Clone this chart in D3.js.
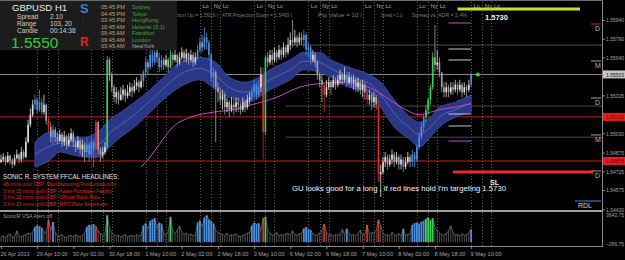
<!DOCTYPE html>
<html>
<head>
<meta charset="utf-8">
<script src="https://cdn.jsdelivr.net/npm/d3@7/dist/d3.min.js"></script>
<style>
  body { margin: 0; background: #000; }
  svg { display: block; }
  text { font-family: "Liberation Sans", Arial, sans-serif; }
</style>
</head>
<body>
<div id="chart"></div>
<script>
// GBPUSD H1 - 26 Apr 2013 18:00 .. 9 May 2013 10:00, one entry per hourly bar
const open0 = 1.5480;
const close = [
  1.5482,1.5484,1.5480,1.5485,1.5481,1.5478,1.5483,1.5486,1.5482,1.5488,1.5484,
  1.5496,1.5510,1.5518,
  1.5526,1.5530,1.5522,1.5528,1.5520,1.5526,
  1.5513,1.5508,1.5500,1.5506,1.5500,
  1.5497,1.5502,1.5496,1.5500,1.5494,1.5498,1.5503,1.5496,1.5492,1.5497,1.5490,1.5494,1.5488,
  1.5494,1.5486,1.5496,1.5490,
  1.5512,1.5490,1.5486,1.5488,1.5492,1.5562,
  1.5550,1.5540,1.5532,1.5536,1.5530,1.5534,1.5538,1.5533,1.5536,1.5540,1.5537,1.5541,1.5544,1.5540,1.5545,
  1.5552,1.5560,1.5556,1.5566,1.5560,1.5568,1.5564,1.5556,1.5562,
  1.5558,1.5562,1.5556,1.5566,1.5562,1.5566,1.5560,1.5564,1.5568,1.5563,1.5567,1.5562,1.5566,1.5560,1.5564,
  1.5570,1.5576,1.5572,1.5580,1.5576,1.5566,1.5548,1.5552,
  1.5540,1.5536,1.5530,1.5534,1.5524,1.5528,1.5522,1.5526,1.5524,1.5528,1.5526,1.5522,1.5528,1.5524,1.5530,1.5532,
  1.5536,1.5542,1.5534,1.5540,1.5550,1.5504,1.5564,
  1.5560,1.5566,1.5562,1.5568,1.5564,1.5570,1.5566,1.5572,1.5568,1.5574,1.5578,1.5576,1.5580,
  1.5576,1.5580,1.5578,1.5582,1.5570,1.5572,1.5562,1.5566,1.5560,
  1.5550,1.5546,1.5542,1.5534,1.5540,1.5544,1.5540,1.5546,1.5542,1.5546,1.5550,1.5546,1.5550,
  1.5544,1.5548,1.5544,1.5546,1.5540,1.5544,1.5538,1.5542,1.5536,
  1.5530,1.5534,1.5528,1.5532,1.5526,1.5470,1.5472,
  1.5480,1.5484,1.5478,1.5482,1.5486,1.5480,1.5484,1.5478,1.5482,1.5476,1.5480,1.5484,1.5480,
  1.5486,1.5482,1.5492,1.5500,1.5508,1.5516,
  1.5522,1.5530,1.5540,1.5564,1.5558,1.5560,1.5552,
  1.5540,1.5536,1.5540,1.5536,1.5540,1.5538,1.5542,1.5538,1.5542,1.5536,1.5540,1.5538,1.5542,1.5550
];
const high = [
  1.5486,1.5487,1.5485,1.5488,1.5486,1.5483,1.5486,1.5490,1.5487,1.5492,1.5490,
  1.5500,1.5514,1.5523,
  1.5530,1.5534,1.5532,1.5538,1.5531,1.5534,
  1.5527,1.5516,1.5512,1.5510,1.5508,
  1.5504,1.5506,1.5504,1.5505,1.5502,1.5503,1.5507,1.5505,1.5498,1.5501,1.5499,1.5498,1.5496,
  1.5499,1.5496,1.5500,1.5498,
  1.5514,1.5513,1.5492,1.5492,1.5496,1.5565,
  1.5564,1.5552,1.5542,1.5540,1.5538,1.5540,1.5542,1.5539,1.5542,1.5544,1.5543,1.5546,1.5548,1.5546,1.5550,
  1.5554,1.5564,1.5562,1.5570,1.5572,1.5572,1.5570,1.5568,1.5566,
  1.5564,1.5566,1.5564,1.5570,1.5568,1.5570,1.5567,1.5568,1.5572,1.5570,1.5571,1.5568,1.5570,1.5568,1.5568,
  1.5574,1.5580,1.5582,1.5588,1.5584,1.5578,1.5568,1.5556,
  1.5554,1.5544,1.5540,1.5538,1.5536,1.5532,1.5530,1.5532,1.5530,1.5532,1.5532,1.5528,1.5532,1.5530,1.5534,1.5536,
  1.5540,1.5546,1.5544,1.5546,1.5556,1.5556,1.5566,
  1.5568,1.5570,1.5570,1.5572,1.5570,1.5574,1.5572,1.5576,1.5574,1.5580,1.5584,1.5594,1.5586,
  1.5582,1.5584,1.5584,1.5586,1.5584,1.5576,1.5574,1.5570,1.5568,
  1.5562,1.5552,1.5550,1.5544,1.5546,1.5548,1.5546,1.5550,1.5548,1.5550,1.5554,1.5552,1.5556,
  1.5552,1.5552,1.5550,1.5550,1.5548,1.5548,1.5546,1.5546,1.5544,
  1.5538,1.5538,1.5536,1.5536,1.5534,1.5530,1.5478,
  1.5484,1.5488,1.5486,1.5486,1.5490,1.5488,1.5488,1.5486,1.5486,1.5484,1.5484,1.5488,1.5486,
  1.5490,1.5488,1.5494,1.5504,1.5512,1.5518,
  1.5526,1.5532,1.5542,1.5568,1.5590,1.5570,1.5564,
  1.5552,1.5544,1.5544,1.5542,1.5544,1.5544,1.5546,1.5544,1.5546,1.5544,1.5544,1.5542,1.5546,1.5552
];
const low = [
  1.5479,1.5480,1.5477,1.5479,1.5478,1.5475,1.5477,1.5482,1.5479,1.5480,1.5482,
  1.5483,1.5495,1.5508,
  1.5516,1.5522,1.5519,1.5520,1.5518,1.5518,
  1.5510,1.5504,1.5496,1.5494,1.5496,
  1.5494,1.5496,1.5492,1.5493,1.5490,1.5492,1.5496,1.5492,1.5488,1.5490,1.5486,1.5484,1.5480,
  1.5484,1.5480,1.5482,1.5476,
  1.5482,1.5486,1.5480,1.5483,1.5486,1.5490,
  1.5545,1.5536,1.5528,1.5527,1.5526,1.5529,1.5530,1.5528,1.5531,1.5533,1.5532,1.5535,1.5538,1.5536,1.5539,
  1.5540,1.5548,1.5550,1.5554,1.5556,1.5558,1.5560,1.5552,1.5554,
  1.5554,1.5556,1.5552,1.5555,1.5558,1.5560,1.5556,1.5558,1.5562,1.5560,1.5560,1.5558,1.5560,1.5556,1.5558,
  1.5562,1.5568,1.5568,1.5570,1.5570,1.5562,1.5544,1.5540,
  1.5496,1.5528,1.5526,1.5522,1.5518,1.5520,1.5516,1.5520,1.5518,1.5520,1.5520,1.5518,1.5520,1.5520,1.5522,1.5526,
  1.5528,1.5532,1.5530,1.5532,1.5536,1.5482,1.5502,
  1.5556,1.5558,1.5558,1.5560,1.5560,1.5562,1.5562,1.5564,1.5564,1.5566,1.5570,1.5572,1.5574,
  1.5572,1.5574,1.5574,1.5572,1.5566,1.5564,1.5558,1.5560,1.5556,
  1.5546,1.5540,1.5528,1.5520,1.5532,1.5538,1.5534,1.5540,1.5538,1.5540,1.5542,1.5542,1.5544,
  1.5540,1.5542,1.5540,1.5538,1.5536,1.5536,1.5534,1.5532,1.5530,
  1.5526,1.5526,1.5522,1.5524,1.5522,1.5464,1.5452,
  1.5470,1.5476,1.5474,1.5476,1.5478,1.5476,1.5478,1.5474,1.5474,1.5472,1.5474,1.5478,1.5476,
  1.5476,1.5476,1.5480,1.5490,1.5498,1.5504,
  1.5512,1.5518,1.5526,1.5538,1.5552,1.5554,1.5548,
  1.5536,1.5532,1.5532,1.5532,1.5534,1.5534,1.5536,1.5534,1.5536,1.5532,1.5534,1.5532,1.5536,1.5540
];
// PVA class per bar: n normal, b rising volume, r climax bear, g climax bull
const candleType =
  "nnnnnnnnnnnnnnn" + "bbbb" + "nn" + "r" + "n" + "b" + "nnnnnnnnnnnnnn" + "bbbb" + "r" + "nnnn" + "g" +
  "nnnnnnnnnnnnnnn" + "bbnbbbnbb" + "nnn" + "g" + "nnnnnnnnnnn" + "bbnbbbbb" + "nnnnnnnnnnnnnnnn" +
  "bbbb" + "n" + "r" + "g" + "nnnnnnnnnnnnnnnn" + "bbbb" + "nnnnn" + "r" + "nnnnnnnnn" + "b" + "nnnnnnnn" +
  "r" + "nnnn" + "r" + "nnnnnnnnnn" + "b" + "nnn" + "bbbbbb" + "gggg" + "nnnnnnnnnnnnnnnn" + "b";
const volume = [
  700,800,600,900,1100,700,600,1500,800,700,900,
  1000,1200,1100,1300,
  2000,2200,2100,1900,1400,
  1200,3000,1500,2700,1300,
  900,800,1000,700,600,800,900,700,1000,800,700,900,1200,
  2000,2300,2200,2400,
  2100,1500,1100,900,1000,
  3600,
  1800,1300,1000,800,900,700,800,1000,700,800,900,700,1000,800,900,
  2200,2500,1700,2800,3000,3200,1800,2600,2400,
  1200,1000,1400,3400,1500,1100,1600,2200,1300,1000,1200,900,1100,800,1000,
  2600,2900,2000,3300,3600,3000,2800,2500,
  1600,1300,1100,1000,900,1200,800,1000,900,1100,800,700,900,1000,1200,1300,
  2200,2600,2400,2500,
  1500,3200,3400,
  1500,1200,900,1000,1300,800,1000,900,1100,1200,900,1500,1000,
  900,1100,1200,1800,2000,1700,1600,1100,900,
  1000,1200,1600,2400,1300,900,1000,800,1000,900,1100,1700,1000,
  1800,1200,900,1000,800,1100,1600,900,1000,
  2300,1000,1300,1200,1500,3000,2200,
  1200,900,1000,800,1300,1000,900,1100,800,1800,900,1000,1100,
  2300,2500,2600,2400,2700,2800,
  3100,3300,2900,3200,
  2000,1500,1200,1000,900,1100,1500,2200,1300,900,1000,800,1100,900,1000,1200,
  1700
];

// Sonic R dragon (EMA34 high / low / close) and EMA89, read at knots
const dragonBar  = [15,22,26,31,37,44,48,53,59,66,73,79,88,95,101,108,112,119,128,134,141,146,154,163,168,174,181,185,190,194,201,208];
const dragonHigh = [1.5496,1.5504,1.5502,1.5500,1.5500,1.5506,1.5514,1.5520,1.5528,1.5538,1.5550,1.5560,1.5564,1.5560,1.5548,1.5544,1.5546,1.5554,1.5562,1.5568,1.5568,1.5562,1.5556,1.5550,1.5544,1.5530,1.5516,1.5512,1.5516,1.5524,1.5528,1.5534];
const dragonLow  = [1.5476,1.5482,1.5488,1.5486,1.5484,1.5484,1.5492,1.5500,1.5508,1.5520,1.5532,1.5540,1.5546,1.5538,1.5532,1.5528,1.5530,1.5538,1.5546,1.5554,1.5552,1.5548,1.5540,1.5536,1.5524,1.5508,1.5498,1.5492,1.5500,1.5508,1.5516,1.5520];
const dragonMid  = [1.5486,1.5493,1.5495,1.5493,1.5492,1.5495,1.5503,1.5510,1.5518,1.5529,1.5541,1.5550,1.5555,1.5549,1.5540,1.5536,1.5538,1.5546,1.5554,1.5561,1.5560,1.5555,1.5548,1.5543,1.5534,1.5519,1.5507,1.5502,1.5508,1.5516,1.5522,1.5527];
const emaBar = [62,66,70,76,84,94,103,111,122,132,141,150,159,165,172,179,185,190,194,201,208];
const ema89  = [1.5476,1.5484,1.5494,1.5508,1.5516,1.5520,1.5522,1.5526,1.5532,1.5540,1.5543,1.5544,1.5542,1.5538,1.5530,1.5522,1.5518,1.5520,1.5522,1.5524,1.5527];

// time axis
const dateBars = [0,16,32,48,64,80,96,112,128,144,160,176,192,208];
const dateLabels = ["26 Apr 2013","29 Apr 10:00","30 Apr 02:00","30 Apr 18:00","1 May 10:00","2 May 02:00",
  "2 May 18:00","3 May 10:00","6 May 02:00","6 May 18:00","7 May 10:00","8 May 02:00","8 May 18:00","9 May 10:00"];
// London open, New York open, London close
const loBars = [16,40,64,88,112,136,160,184,208];
const nyBars = [21,45,69,93,117,141,165,189,213];
const lcBars = [25,49,73,97,121,145,169,193,217];
const weekStartBar = 126;   // 6 May 00:00, weekly levels start here

// price axis
const priceTicks = [1.55940,1.55790,1.55640,1.55335,1.55185,1.55030,1.54875,1.54725,1.54575,1.54420];
const bidPrice = 1.55503;
const redLevels = [1.55162,1.54808];
const weeklyLevels = [1.55739,1.55249,1.54999];
const purpleMarks = [1.55916,1.54968];
const grayMarks = [1.55707,1.55619,1.55185,1.55089];
const pivotPrices = [1.55908,1.55611,1.55314,1.55017,1.54728];
const pivotNames = ["D","M","D","M","D"];
const slPrice = 1.5472, rdlPrice = 1.54487;
const volTicks = [3643.75, -266.75];

// info panel
const sessionTimes = ["05:45 PM","04:45 PM","03:45 PM","10:45 AM","09:45 AM","09:45 AM","03:45 AM"];
const sessionCities = ["Sydney","Tokyo","HongKong","Helsinki (3.1)","Frankfurt","London","NewYork"];
const headlines = [
  "45 mins until GBP: Manufacturing Production m/m",
  "3 hrs 15 mins until GBP: Asset Purchase Facility",
  "3 hrs 15 mins until GBP: Official Bank Rate",
  "3 hrs 15 mins until GBP: MPC Rate Statement"
];

const W = 625, H = 260, PANEL_W = 177;
const svg = d3.select("#chart").append("svg").attr("width", W).attr("height", H);
svg.append("rect").attr("width", W).attr("height", H).attr("fill", "#000");

const x = d3.scaleLinear().domain([0, 208]).range([1, 471.1]);
const y = d3.scaleLinear().domain([1.5442, 1.5594]).range([209.3, 20]);
const yv = d3.scaleLinear().domain([-266.75, 3643.75]).range([244, 215]);

const defs = svg.append("defs");
defs.append("clipPath").attr("id", "clipMain").append("rect").attr("x", 0).attr("y", 1).attr("width", 602).attr("height", 208);
defs.append("clipPath").attr("id", "clipVol").append("rect").attr("x", 0).attr("y", 213).attr("width", 602).attr("height", 33);

function txt(g, px, py, s, size, fill, extra) {
  const t = g.append("text").attr("x", px).attr("y", py).attr("font-size", size).attr("fill", fill).text(s);
  if (extra) Object.keys(extra).forEach(k => t.attr(k, extra[k]));
  return t;
}

// session lines (dotted, through both panes)
const sess = svg.append("g");
[loBars, nyBars, lcBars].forEach(arr => {
  sess.selectAll(null).data(arr).enter().append("line")
    .attr("x1", d => Math.round(x(d)) + 0.5).attr("x2", d => Math.round(x(d)) + 0.5)
    .attr("y1", 2).attr("y2", 246)
    .attr("stroke", "#5a5a5a").attr("stroke-width", 1).attr("stroke-dasharray", "1,2");
});

const main = svg.append("g").attr("clip-path", "url(#clipMain)");

// horizontal levels
main.selectAll(null).data(weeklyLevels).enter().append("line")
  .attr("x1", x(weekStartBar)).attr("x2", 602).attr("y1", d => y(d)).attr("y2", d => y(d))
  .attr("stroke", "#4a4a4a").attr("stroke-width", 1);
main.append("line").attr("x1", 0).attr("x2", 602).attr("y1", y(bidPrice)).attr("y2", y(bidPrice))
  .attr("stroke", "#8c8c8c").attr("stroke-width", 1);
main.selectAll(null).data(redLevels).enter().append("line")
  .attr("x1", 0).attr("x2", 602).attr("y1", d => y(d)).attr("y2", d => y(d))
  .attr("stroke", "#c81e1e").attr("stroke-width", 1);

// dragon band
const dragon = dragonBar.map((b, i) => ({ b, hi: dragonHigh[i], lo: dragonLow[i], mid: dragonMid[i] }));
main.append("path").datum(dragon)
  .attr("d", d3.area().x(d => x(d.b)).y0(d => y(d.lo)).y1(d => y(d.hi)).curve(d3.curveMonotoneX))
  .attr("fill", "#2a3787").attr("stroke", "#4250a6").attr("stroke-width", 0.8);
main.append("path").datum(dragon)
  .attr("d", d3.line().x(d => x(d.b)).y(d => y(d.mid)).curve(d3.curveMonotoneX))
  .attr("fill", "none").attr("stroke", "#7482bc").attr("stroke-width", 0.6);
main.append("path").datum(emaBar.map((b, i) => ({ b, v: ema89[i] })))
  .attr("d", d3.line().x(d => x(d.b)).y(d => y(d.v)).curve(d3.curveMonotoneX))
  .attr("fill", "none").attr("stroke", "#c04ac8").attr("stroke-width", 1);

// candles
const colorOf = { b: "#4a90e2", r: "#e6262a", g: "#36d45a" };
const bars = close.map((c, i) => ({ i, c, o: i ? close[i - 1] : open0, h: high[i], l: low[i], t: candleType[i], v: volume[i] }));
bars.forEach(d => { d.col = colorOf[d.t] || (d.c >= d.o ? "#dedede" : "#a4a4a4"); });
const cg = main.append("g");
cg.selectAll("line").data(bars).enter().append("line")
  .attr("x1", d => x(d.i)).attr("x2", d => x(d.i))
  .attr("y1", d => y(d.h)).attr("y2", d => y(d.l))
  .attr("stroke", d => d.col).attr("stroke-width", 0.8);
cg.selectAll("rect").data(bars).enter().append("rect")
  .attr("x", d => x(d.i) - 0.8).attr("width", 1.6)
  .attr("y", d => y(Math.max(d.o, d.c)))
  .attr("height", d => Math.max(0.8, Math.abs(y(d.o) - y(d.c))))
  .attr("fill", d => d.col);

// right-side short level marks
main.selectAll(null).data(purpleMarks).enter().append("line")
  .attr("x1", x(198)).attr("x2", x(208)).attr("y1", d => y(d)).attr("y2", d => y(d))
  .attr("stroke", "#a040b0").attr("stroke-width", 1.2);
main.selectAll(null).data(grayMarks).enter().append("line")
  .attr("x1", x(198)).attr("x2", x(208)).attr("y1", d => y(d)).attr("y2", d => y(d))
  .attr("stroke", "#c8c8c8").attr("stroke-width", 1);
main.append("circle").attr("cx", x(211)).attr("cy", y(bidPrice)).attr("r", 2).attr("fill", "#22e022");

// pivot marks at the right edge
pivotPrices.forEach((p, i) => {
  main.append("line").attr("x1", 591).attr("x2", 601).attr("y1", y(p)).attr("y2", y(p))
    .attr("stroke", i === 0 ? "#c03030" : "#a0a0a0").attr("stroke-width", 1);
  txt(main, 595, y(p) + 7, pivotNames[i], 7, "#b8b8b8");
});

// drawn objects
main.append("line").attr("x1", x(200)).attr("x2", 593).attr("y1", y(slPrice)).attr("y2", y(slPrice))
  .attr("stroke", "#e8282c").attr("stroke-width", 3);
txt(main, 490, 185, "SL", 7, "#f0f0f0", { "font-weight": "bold" });
main.append("line").attr("x1", 575).attr("x2", 601).attr("y1", y(rdlPrice)).attr("y2", y(rdlPrice))
  .attr("stroke", "#4a84d0").attr("stroke-width", 1);
txt(main, 578, 208, "RDL", 7, "#d0d0d0");
txt(main, 292, 191, "GU looks good for a long , if red lines hold I'm targeting 1.5730", 7.2, "#f4f4f4",
  { textLength: 214, lengthAdjust: "spacingAndGlyphs" });

svg.append("line").attr("x1", x(202)).attr("x2", 580).attr("y1", 9).attr("y2", 9)
  .attr("stroke", "#c8e02c").attr("stroke-width", 3);
txt(svg, 485, 20, "1.5730", 7.5, "#f0f0f0", { "font-weight": "bold" });

// session labels along the top (the ones under the info panel are hidden)
[["Lo", loBars], ["Ny", nyBars], ["Lc", lcBars]].forEach(([s, arr]) => {
  arr.filter(b => x(b) > PANEL_W).forEach(b => txt(svg, x(b) + 2.5, 8, s, 5.6, "#b4ae8c"));
});

// statistics line, its start is covered by the info panel
defs.append("clipPath").attr("id", "clipStat").append("rect").attr("x", PANEL_W).attr("y", 0).attr("width", 100).attr("height", 30);
const statParts = [
  ["ATR Projection Up = 1.5619  |", 152, 218],
  ["ATR Projection Down = 1.5463  |", 222, 292],
  ["Pip Value = 10  |", 318, 362],
  ["Spread = 2.1  |", 381, 403],
  ["Spread vs. ADR = 2.4%", 412, 467]
];
statParts.forEach(([s, a, b], i) => {
  const t = txt(svg, a, 17, s, 5.6, "#7c7c7c", { textLength: b - a, lengthAdjust: "spacingAndGlyphs" });
  if (i === 0) t.attr("clip-path", "url(#clipStat)");
});

// info panel
const panel = svg.append("g");
panel.append("rect").attr("x", 0).attr("y", 0).attr("width", PANEL_W).attr("height", 50).attr("fill", "#1c1c1c");
txt(panel, 12, 11, "GBPUSD", 9.5, "#ececec");
txt(panel, 55, 11, "H1", 9.5, "#ececec");
[["Spread", "2.10"], ["Range", "103, 20"], ["Candle", "00:14:38"]].forEach(([k, v], i) => {
  txt(panel, 17, 19 + i * 6.8, k, 6.6, "#cfcfcf");
  txt(panel, 50, 19 + i * 6.8, v, 6.6, "#cfcfcf");
});
txt(panel, 11, 48, "1.5550", 15.5, "#35c935");
txt(panel, 80, 13, "S", 13, "#3c7fd8", { "font-weight": "bold" });
txt(panel, 82, 22, ":", 7, "#3c7fd8");
txt(panel, 82, 33, ":", 7, "#d02020");
txt(panel, 80, 46, "R", 12, "#e02424", { "font-weight": "bold" });
sessionTimes.forEach((t, i) => {
  txt(panel, 101, 9 + i * 6.5, t, 5.6, "#c8a46c");
  txt(panel, 132, 9 + i * 6.5, sessionCities[i], 5.6, i === 6 ? "#a8a8a8" : "#3fa83f");
});

// headlines
txt(svg, 3, 178.5, "SONIC R. SYSTEM  FFCAL HEADLINES:", 6.4, "#e6e6e6", { textLength: 116, lengthAdjust: "spacingAndGlyphs" });
headlines.forEach((h, i) => txt(svg, 3, 186 + i * 6.6, h, 5.1, "#e0201e"));

// separator between panes
svg.append("line").attr("x1", 0).attr("x2", 603).attr("y1", 211).attr("y2", 211).attr("stroke", "#9c9c9c").attr("stroke-width", 2);

// volume pane
const vol = svg.append("g").attr("clip-path", "url(#clipVol)");
vol.selectAll("rect").data(bars).enter().append("rect")
  .attr("x", d => x(d.i) - (d.t === "n" ? 0.4 : 0.9)).attr("width", d => d.t === "n" ? 0.8 : 1.8)
  .attr("y", d => yv(d.v)).attr("height", d => yv(0) - yv(d.v))
  .attr("fill", d => colorOf[d.t] || "#5e5e5e");
vol.append("path").datum(bars)
  .attr("d", d3.line().x(d => x(d.i)).y(d => yv(d.v)))
  .attr("fill", "none").attr("stroke", "#8e8e8e").attr("stroke-width", 0.6);
txt(svg, 3, 218, "SonicR VSA    Alert off", 5.4, "#9a9a9a");

// frame and axes
svg.append("line").attr("x1", 602.5).attr("x2", 602.5).attr("y1", 0).attr("y2", 247).attr("stroke", "#8a8a8a");
svg.append("line").attr("x1", 0).attr("x2", 603).attr("y1", 246.5).attr("y2", 246.5).attr("stroke", "#8a8a8a");
svg.append("line").attr("x1", 0).attr("x2", 603).attr("y1", 0.5).attr("y2", 0.5).attr("stroke", "#6a6a6a");

const axisFont = "Liberation Sans, Arial, sans-serif";
// tick labels hidden behind the bid / level boxes are not drawn
const boxed = [bidPrice].concat(redLevels);
const visibleTicks = priceTicks.filter(p => boxed.every(b => Math.abs(y(p) - y(b)) > 5));
const pAxis = svg.append("g").attr("transform", "translate(603,0)")
  .call(d3.axisRight(y).tickValues(visibleTicks).tickSize(2).tickFormat(d3.format(".5f")));
pAxis.select(".domain").remove();
pAxis.selectAll("line").attr("stroke", "#8a8a8a");
pAxis.selectAll("text").attr("fill", "#a4a4a4").attr("font-size", 5.6).attr("x", 3)
  .attr("textLength", 18).attr("lengthAdjust", "spacingAndGlyphs").attr("font-family", axisFont);

function priceBox(p, bg, fg) {
  svg.append("rect").attr("x", 603).attr("y", y(p) - 4).attr("width", 22).attr("height", 8).attr("fill", bg);
  txt(svg, 606, y(p) + 2.2, d3.format(".5f")(p), 5.6, fg, { textLength: 18, lengthAdjust: "spacingAndGlyphs" });
}
priceBox(bidPrice, "#c4c4c4", "#202020");
redLevels.forEach(p => priceBox(p, "#e81c1c", "#700000"));

const vAxis = svg.append("g").attr("transform", "translate(603,0)")
  .call(d3.axisRight(yv).tickValues(volTicks).tickSize(0).tickFormat(d3.format(".2f")));
vAxis.select(".domain").remove();
vAxis.selectAll("text").attr("fill", "#a4a4a4").attr("font-size", 5.6).attr("x", 3)
  .attr("textLength", 18).attr("lengthAdjust", "spacingAndGlyphs").attr("font-family", axisFont);

const tAxis = svg.append("g").attr("transform", "translate(0,247)")
  .call(d3.axisBottom(x).tickValues(dateBars).tickSize(2).tickFormat((d, i) => dateLabels[i]));
tAxis.select(".domain").remove();
tAxis.selectAll("line").attr("stroke", "#8a8a8a");
tAxis.selectAll("text").attr("fill", "#a4a4a4").attr("font-size", 5.2).attr("text-anchor", "start")
  .attr("x", -1).attr("y", 5).attr("font-family", axisFont)
  .attr("textLength", d => d === 0 ? 29 : 31).attr("lengthAdjust", "spacingAndGlyphs");
</script>
</body>
</html>
